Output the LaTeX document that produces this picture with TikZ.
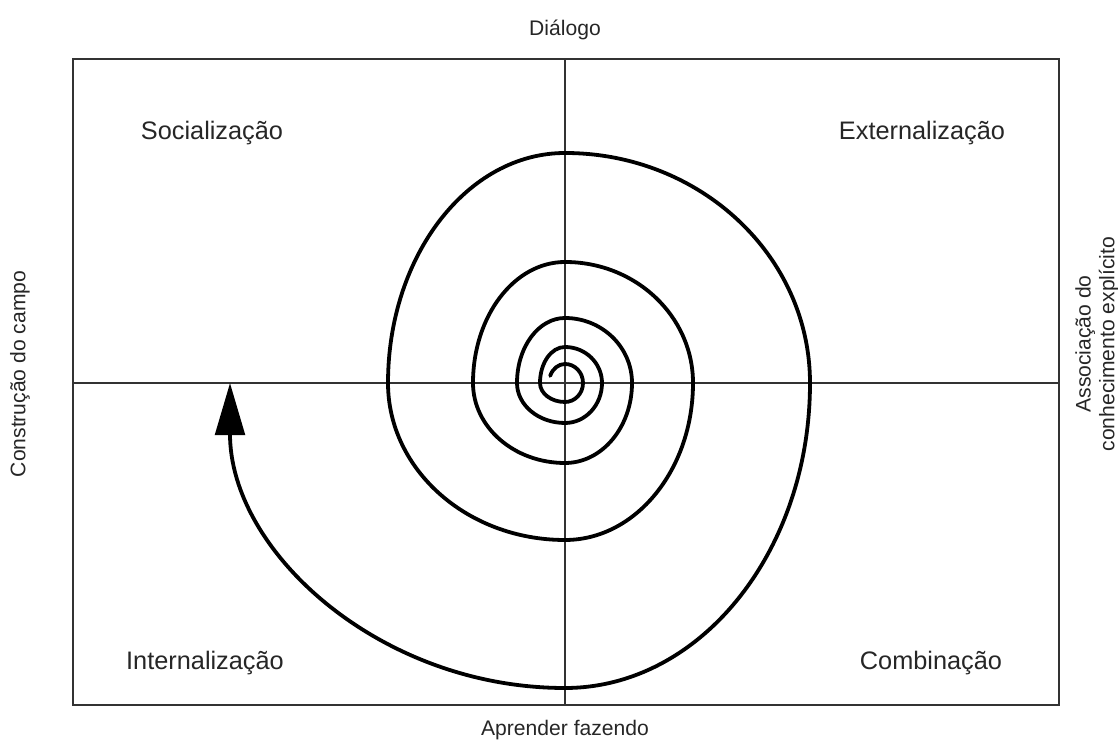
\documentclass[tikz,border=0pt]{standalone}
\usepackage{fontspec}
\setmainfont{Liberation Sans}
\usetikzlibrary{arrows.meta}
\begin{document}
\begin{tikzpicture}[x=0.025cm,y=0.025cm,
    quadlabel/.style={font=\fontsize{18}{21}\selectfont, text=black!85},
    sidelabel/.style={font=\fontsize{15}{17}\selectfont, text=black!85, align=center},
    axisline/.style={line width=0.9pt, draw=black!80},
    spiralline/.style={line width=2.7pt, line cap=round, -{Triangle[length=37pt,width=21pt]}}]
    \useasboundingbox (0,0) rectangle (1118,749);
    \coordinate (frameSW) at (73,44);
    \coordinate (frameNE) at (1059,690);
    \coordinate (axisN) at (565,690);
    \coordinate (axisS) at (565,44);
    \coordinate (axisW) at (73,366);
    \coordinate (axisE) at (1059,366);
    \coordinate (c) at (565,366);
    \draw[axisline] (frameSW) rectangle (frameNE);
    \draw[axisline] (axisN) -- (axisS) (axisW) -- (axisE);
    \node[quadlabel] (soc) at (212,616) {Socialização};
    \node[quadlabel] (ext) at (922,616) {Externalização};
    \node[quadlabel] (int) at (205,86) {Internalização};
    \node[quadlabel] (comb) at (931,86) {Combinação};
    \node[sidelabel] (dial) at (565,719) {Diálogo};
    \node[sidelabel] (aprend) at (565,19) {Aprender fazendo};
    \node[sidelabel, rotate=90] (constr) at (20,375) {Construção do campo};
    \node[sidelabel, rotate=90] (assoc) at (1097,405) {Associação do\\conhecimento explícito};
    \path (c) ++(158:16 and 19) coordinate (spiralstart);
    \draw[spiralline] (spiralstart)
        \foreach \a/\b/\rx/\ry in {158/90/16/19, 90/0/18/19, 0/-90/18/19, -90/-180/25/19,
            180/90/25/36, 90/0/37/36, 0/-90/37/40, -90/-180/48/40,
            180/90/48/65, 90/0/67/65, 0/-90/67/80, -90/-180/92/80,
            180/90/92/121, 90/0/128/121, 0/-90/128/157, -90/-180/177/157,
            180/90/177/230, 90/0/245/230, 0/-90/245/305, -90/-180/335/305}
        {arc[start angle=\a, end angle=\b, x radius=\rx, y radius=\ry]};
\end{tikzpicture}
\end{document}
